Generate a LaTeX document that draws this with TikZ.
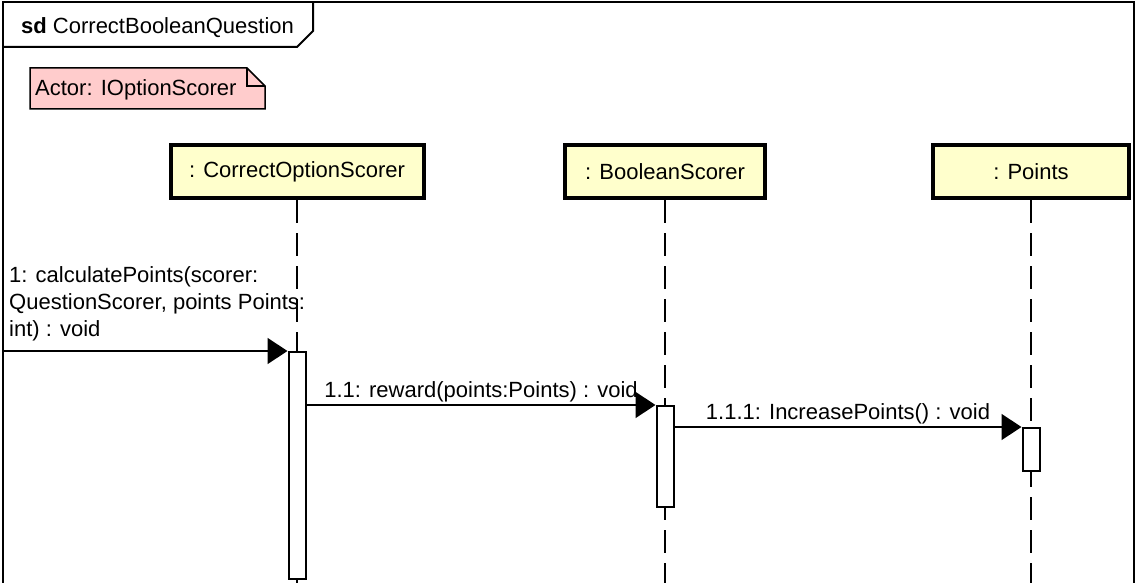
\documentclass[tikz,border=0pt]{standalone}
\usepackage{fontspec}
\setmainfont{Liberation Sans}
\usetikzlibrary{positioning,arrows.meta}

\definecolor{headyellow}{RGB}{255,255,204}
\definecolor{notepink}{RGB}{255,204,204}

\begin{document}
\begin{tikzpicture}[x=1pt, y=-1pt, font=\fontsize{22}{27}\selectfont]
	\tikzset{
		head/.style={rectangle, draw=black, line width=4pt, fill=headyellow, minimum height=53pt, inner sep=0pt},
		lifeline/.style={draw=black, line width=1.5pt, dash pattern=on 23pt off 10pt},
		act/.style={rectangle, draw=black, line width=2pt, fill=white, minimum width=17pt, inner sep=0pt, anchor=north},
		msg/.style={draw=black, line width=1.5pt, -{Triangle[length=20pt, width=26pt]}},
		lbl/.style={inner sep=0pt, text=black}
	}
	\useasboundingbox (0,0) rectangle (1137,583);
	
	% Frame
	\draw[line width=2pt] (3,583) -- (3,2) -- (1134,2) -- (1134,583);
	\draw[line width=2pt] (3,47) -- (297,47) -- (313,31) -- (313,2);
	\node[lbl, anchor=west] (title) at (21,28) {\textbf{sd} CorrectBooleanQuestion};
	
	% Note
	\draw[line width=1.5pt, fill=notepink] (30,68) -- (247,68) -- (265,86) -- (265,109) -- (30,109) -- cycle;
	\draw[line width=1.5pt] (247,68) -- (247,86) -- (265,86);
	\node[lbl, anchor=west] (note) at (35,90) {Actor: IOptionScorer};
	
	% Lifeline heads
	\node[head, minimum width=253pt] (cos) at (297,171.5) {: CorrectOptionScorer};
	\node[head, minimum width=200pt] (bs) at (665,171.5) {: BooleanScorer};
	\node[head, minimum width=196pt] (pts) at (1031,171.5) {: Points};
	
	% Lifelines
	\coordinate (bottom) at (0,583);
	\draw[lifeline] (cos.south) -- (cos.south |- bottom);
	\draw[lifeline] (bs.south) -- (bs.south |- bottom);
	\draw[lifeline] (pts.south) -- (pts.south |- bottom);
	
	% Activations
	\node[act, minimum height=227pt] (act1) at (297,351) {};
	\node[act, minimum height=101pt] (act2) at (665,405) {};
	\node[act, minimum height=43pt] (act3) at (1031,427) {};
	
	% Messages
	\coordinate (found) at (3,351);
	\draw[msg] (found) -- (act1.north west);
	\node[lbl, anchor=west, align=left] (m1) at (9,304) {1: calculatePoints(scorer:\\QuestionScorer, points Points:\\int) : void};
	
	\draw[msg] (act1.east |- act2.north) -- (act2.north west)
		node[lbl, midway, above=2pt] (m11) {1.1: reward(points:Points) : void};
	\draw[msg] (act2.east |- act3.north) -- (act3.north west)
		node[lbl, midway, above=2pt] (m111) {1.1.1: IncreasePoints() : void};
\end{tikzpicture}
\end{document}
